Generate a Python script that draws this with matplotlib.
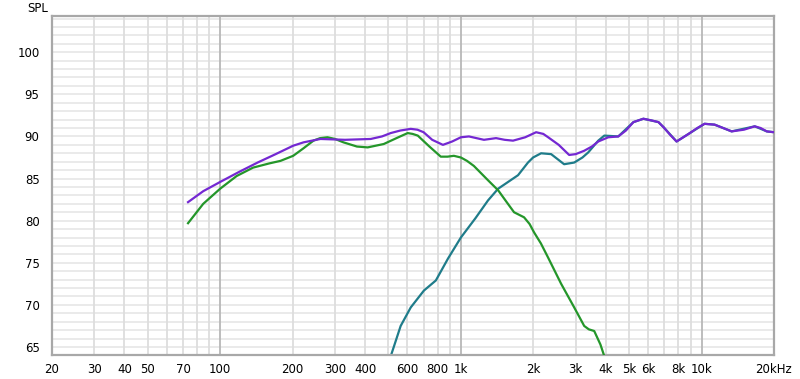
import numpy as np
import matplotlib
matplotlib.use("Agg")
import matplotlib.pyplot as plt

# frequency response readings (Hz, dB SPL)
sum_f = [73.5, 85, 100, 120, 143, 170, 201, 222, 261, 330, 422, 470, 511, 560, 619,
         660, 700, 760, 842, 920, 1000, 1080, 1160, 1247, 1400, 1520, 1647, 1850, 2054, 2200,
         2305, 2550, 2818, 3000, 3254, 3500, 3722, 4096, 4508, 4850, 5210, 5731, 6200,
         6622, 6950, 7400, 7875, 8831, 9600, 10292, 11330, 12300, 13335, 15000, 16630,
         17600, 18660, 20000]
sum_db = [82.2, 83.5, 84.6, 85.8, 86.9, 87.9, 88.9, 89.3, 89.7, 89.6, 89.7, 90.0, 90.4, 90.7, 90.9,
          90.8, 90.5, 89.6, 89.0, 89.4, 89.9, 90.0, 89.8, 89.6, 89.8, 89.6, 89.5, 89.9, 90.5, 90.3,
          89.9, 89.0, 87.8, 87.9, 88.3, 88.8, 89.4, 89.9, 90.0, 90.7, 91.7, 92.1, 91.9,
          91.7, 91.1, 90.2, 89.4, 90.3, 91.0, 91.5, 91.4, 91.0, 90.6, 90.8, 91.2,
          91.0, 90.6, 90.5]

woofer_f = [73.5, 85, 100, 117, 137, 160, 178, 201, 222, 244, 260, 279, 300, 325, 370, 410, 478,
            540, 601, 630, 662, 740, 825, 880, 935, 1000, 1060, 1132, 1296, 1429, 1550, 1663, 1830,
            1930, 2015, 2150, 2305, 2610, 2957, 3254, 3400, 3581, 3800, 3945, 4100]
woofer_db = [79.7, 82.0, 83.8, 85.3, 86.3, 86.8, 87.1, 87.7, 88.6, 89.5, 89.8, 89.9, 89.7, 89.3, 88.8, 88.7, 89.1,
             89.8, 90.4, 90.3, 90.1, 88.8, 87.6, 87.6, 87.7, 87.5, 87.1, 86.5, 84.8, 83.6, 82.2, 81.0, 80.4,
             79.6, 78.6, 77.3, 75.6, 72.5, 69.7, 67.5, 67.1, 66.9, 65.3, 63.9, 62.0]

tweeter_f = [495, 511, 562, 619, 702, 787, 884, 1000, 1150, 1296, 1429, 1728, 1900, 1995, 2154,
             2371, 2550, 2685, 2957, 3200, 3381, 3722, 3945, 4508, 5210, 5731, 6622, 6950, 7875,
             8831, 10292, 11330, 13335, 16630, 18660, 20000]
tweeter_db = [62.5, 63.9, 67.5, 69.7, 71.7, 72.9, 75.5, 78.0, 80.3, 82.4, 83.8, 85.4, 86.9, 87.5, 88.0,
              87.9, 87.2, 86.7, 86.9, 87.5, 88.1, 89.5, 90.1, 90.0, 91.7, 92.1, 91.7, 91.1, 89.4,
              90.3, 91.5, 91.4, 90.6, 91.2, 90.6, 90.5]

x_ticks = [20, 30, 40, 50, 70, 100, 200, 300, 400, 600, 800, 1000, 2000, 3000,
           4000, 5000, 6000, 8000, 10000, 20000]
x_labels = ["20", "30", "40", "50", "70", "100", "200", "300", "400", "600", "800", "1k",
            "2k", "3k", "4k", "5k", "6k", "8k", "10k", "20kHz"]
y_ticks = [65, 70, 75, 80, 85, 90, 95, 100]

fig = plt.figure(figsize=(8, 3.79), dpi=100)
ax = fig.add_axes([0.065, 0.0633, 0.9025, 0.8945])
ax.set_xscale("log")
ax.set_xlim(20, 20000)
ax.set_ylim(64.05, 104.3)

# grid
for d in range(64, 105):
    ax.axhline(d, color="#e8e8e8", lw=1.3, zorder=0)
for dec in [10, 100, 1000, 10000]:
    for m in range(1, 10):
        f = dec * m
        if f < 20 or f > 20000:
            continue
        c = "#b8b8b8" if m == 1 else "#dddddd"
        ax.axvline(f, color=c, lw=1.3, zorder=0)

ax.plot(tweeter_f, tweeter_db, color="#1f7c8a", lw=1.6, zorder=2)
ax.plot(woofer_f, woofer_db, color="#24962a", lw=1.6, zorder=3)
ax.plot(sum_f, sum_db, color="#7428d2", lw=1.6, zorder=4)

ax.set_xticks(x_ticks)
ax.set_xticklabels(x_labels)
ax.xaxis.set_minor_locator(matplotlib.ticker.NullLocator())
ax.set_yticks(y_ticks)
ax.tick_params(length=0, labelsize=8.5, colors="black", pad=6)
ax.tick_params(axis="y", pad=9)

for s in ax.spines.values():
    s.set_color("#a8a8a8")
    s.set_linewidth(1.6)

fig.text(0.06, 0.978, "SPL", ha="right", va="center", fontsize=8.5)

fig.savefig("out.png", dpi=100)
